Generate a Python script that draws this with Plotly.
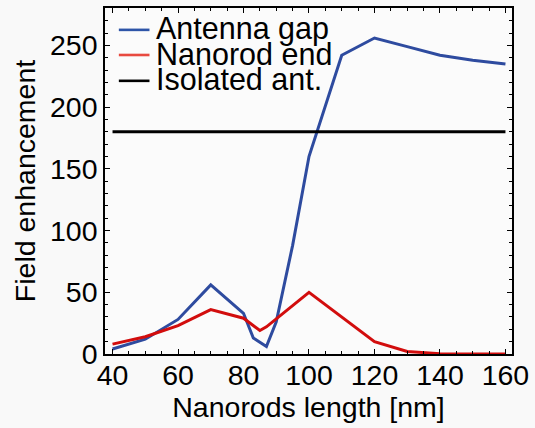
import plotly.graph_objects as go

# ---- data ----
ant_x = [40, 50, 60, 70, 80, 83, 87, 90, 95, 100, 110, 120, 130, 140, 150, 160]
ant_y = [4, 12, 28, 56, 33, 13, 6, 26, 88, 160, 242, 256, 249, 242, 238, 235]

rod_x = [40, 50, 60, 70, 80, 85, 87, 100, 120, 130, 140, 150, 160]
rod_y = [8, 14, 23, 36, 29, 19, 22, 50, 10, 2, 0.3, 0, 0]

iso_x = [40, 160]
iso_y = [180, 180]

names = ["Antenna gap", "Nanorod end", "Isolated ant."]
colors = ["#2e4b9f", "#d20d0d", "#000000"]

x_ticks = [40, 60, 80, 100, 120, 140, 160]
y_ticks = [0, 50, 100, 150, 200, 250]

FONT = "Liberation Sans, Arial, sans-serif"
FS = 28.5
LEG_FS = 30.5

fig = go.Figure()
for xs, ys, nm, c in zip([ant_x, rod_x, iso_x], [ant_y, rod_y, iso_y], names, colors):
    fig.add_trace(go.Scatter(x=xs, y=ys, mode="lines", name=nm,
                             line=dict(color=c, width=3), showlegend=False))

# manual legend (compact line spacing like the original)
rows = [0.9368, 0.8642, 0.7895]
leg_colors = ["#2e55a8", "#e84a40", "#000000"]
for nm, c, yy in zip(names, leg_colors, rows):
    fig.add_shape(type="line", xref="paper", yref="paper",
                  x0=0.034, x1=0.1093, y0=yy, y1=yy,
                  line=dict(color=c, width=2.6))
    fig.add_annotation(xref="paper", yref="paper", x=0.120, y=yy + 0.004,
                       text=nm, showarrow=False, xanchor="left", yanchor="middle",
                       font=dict(family=FONT, size=LEG_FS, color="black"))

axis_common = dict(
    showline=True, linecolor="black", linewidth=1.5, mirror="ticks",
    ticks="inside", ticklen=5, tickwidth=1.3, tickcolor="black",
    showgrid=False, zeroline=False,
    tickfont=dict(family=FONT, size=FS, color="black"),
)

fig.update_xaxes(range=[37.7, 162.0], tickvals=x_ticks,
                 ticklabelstandoff=-5,
                 minor=dict(dtick=5, ticks="inside", ticklen=3, tickcolor="black", tickwidth=1.1),
                 title=dict(text="Nanorods length [nm]", font=dict(family=FONT, size=FS, color="black"),
                            standoff=6),
                 **axis_common)
fig.update_yaxes(range=[0, 280.3], tickvals=y_ticks,
                 minor=dict(dtick=10, ticks="inside", ticklen=3, tickcolor="black", tickwidth=1.1),
                 title=dict(text="Field enhancement", font=dict(family=FONT, size=FS, color="black"),
                            standoff=6),
                 **axis_common)

fig.update_layout(
    width=535, height=428,
    margin=dict(l=105, r=18, t=6, b=74),
    paper_bgcolor="#f9f9f9", plot_bgcolor="#fbfbfb",
    font=dict(family=FONT, size=FS, color="black"),
)

fig.write_html("out.html")
